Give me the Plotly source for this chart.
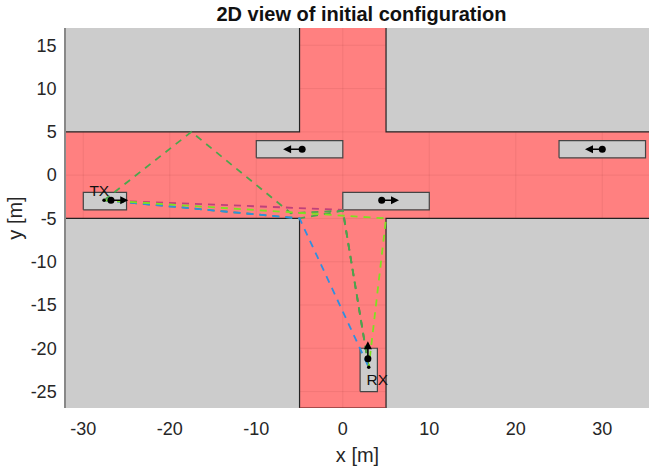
import plotly.graph_objects as go

x_range = [-32, 35.4]
y_range = [-26.9, 17]
x_ticks = [-30, -20, -10, 0, 10, 20, 30]
x_tick_labels = ["-30", "-20", "-10", "0", "10", "20", "30"]
y_ticks = [-25, -20, -15, -10, -5, 0, 5, 10, 15]
y_tick_labels = ["-25", "-20", "-15", "-10", "-5", "0", "5", "10", "15"]

road_x = [x_range[0], -5, -5, 5, 5, x_range[1], x_range[1], 5, 5, -5, -5, x_range[0], x_range[0]]
road_y = [5, 5, y_range[1], y_range[1], 5, 5, -5, -5, y_range[0], y_range[0], -5, -5, 5]

# building corners
block_edges = [
    ([x_range[0], -5, -5], [5, 5, y_range[1]]),
    ([5, 5, x_range[1]], [y_range[1], 5, 5]),
    ([x_range[0], -5, -5], [-5, -5, y_range[0]]),
    ([5, 5, x_range[1]], [y_range[0], -5, -5]),
]
road_end_x = [-5, 5]
road_end_y = [y_range[0], y_range[0]]

# vehicles: x0, x1, y0, y1
vehicles = {
    "TX": (-30, -25, -4, -2),
    "car1": (-10, 0, 2, 4),
    "car2": (0, 10, -4, -2),
    "car3": (25, 35, 2, 4),
    "RX": (2, 4, -25, -20),
}
# centre dot and heading arrow tip
car_dots_x = [-26.8, -4.7, 4.5, 30, 2.9]
car_dots_y = [-2.9, 3, -2.9, 3, -21.2]
arrow_tips_x = [-24.8, -6.9, 6.5, 28, 2.9]
arrow_tips_y = [-2.9, 3, -2.9, 3, -19.2]
antenna_x = [-27.6, 3.0]
antenna_y = [-2.9, -22.2]

# ray paths
rays = [
    ("#c0407a", [-27.6, 0, 3.0], [-2.9, -4, -22.2]),
    ("#4ca64c", [-27.6, -17.5, -6, 0, 3.0], [-2.9, 5, -4.4, -4.1, -22.2]),
    ("#4ca64c", [-27.6, -5, 0, 3.0], [-2.9, -5, -4.1, -22.2]),
    ("#2f8fe0", [-27.6, -5, 3.0], [-2.9, -5, -22.2]),
    ("#7fe020", [-27.6, 5, 3.0], [-2.9, -5, -22.2]),
]

labels = ["TX", "RX"]
label_x = [-28.15, 4.0]
label_y = [-1.95, -23.76]

grid_color = "rgba(130,40,40,0.10)"

fig = go.Figure()
fig.add_trace(go.Scatter(x=road_x, y=road_y, mode="lines", fill="toself",
                         fillcolor="#ff8080", line=dict(width=0), hoverinfo="skip"))
for bx, by in block_edges:
    fig.add_trace(go.Scatter(x=bx, y=by, mode="lines", line=dict(color="#222222", width=1.2), hoverinfo="skip"))
fig.add_trace(go.Scatter(x=road_end_x, y=road_end_y, mode="lines", line=dict(color="#8a3a3a", width=1.5), hoverinfo="skip", cliponaxis=False))
for gx in x_ticks:
    span = y_range if gx == 0 else [-5, 5]
    fig.add_trace(go.Scatter(x=[gx, gx], y=span, mode="lines", line=dict(color=grid_color, width=1), hoverinfo="skip"))
for gy in y_ticks:
    span = x_range if gy == 0 else [-5, 5]
    fig.add_trace(go.Scatter(x=span, y=[gy, gy], mode="lines", line=dict(color=grid_color, width=1), hoverinfo="skip"))
for name, (x0, x1, y0, y1) in vehicles.items():
    fig.add_trace(go.Scatter(x=[x0, x1, x1, x0, x0], y=[y0, y0, y1, y1, y0], mode="lines", fill="toself",
                             fillcolor="#cccccc", line=dict(color="#444444", width=1.2), hoverinfo="skip"))
for color, rx, ry in rays:
    fig.add_trace(go.Scatter(x=rx, y=ry, mode="lines", line=dict(color=color, width=1.8, dash="7px,6px"), hoverinfo="skip"))
fig.add_trace(go.Scatter(x=car_dots_x, y=car_dots_y, mode="markers", marker=dict(color="black", size=7), hoverinfo="skip"))
fig.add_trace(go.Scatter(x=antenna_x, y=antenna_y, mode="markers", marker=dict(color="black", size=3.5), hoverinfo="skip"))
fig.add_trace(go.Scatter(x=label_x, y=label_y, mode="text", text=labels, textposition="middle center",
                         textfont=dict(family="Liberation Sans", size=15.5, color="#111111"), hoverinfo="skip"))

annotations = [
    dict(x=tx, y=ty, ax=dx, ay=dy, xref="x", yref="y", axref="x", ayref="y", text="",
         showarrow=True, arrowhead=2, arrowsize=1, arrowwidth=1.6, arrowcolor="black")
    for dx, dy, tx, ty in zip(car_dots_x, car_dots_y, arrow_tips_x, arrow_tips_y)
]

fig.update_layout(
    width=649, height=470, autosize=False, showlegend=False,
    paper_bgcolor="white", plot_bgcolor="#cccccc",
    margin=dict(l=66, r=0, t=28, b=62),
    font=dict(family="Liberation Sans", color="#262626"),
    title=dict(text="<b>2D view of initial configuration</b>", x=0.557, xanchor="center", y=0.970, yanchor="middle",
               font=dict(size=20, color="#111111")),
    annotations=annotations,
)
fig.update_xaxes(range=x_range, tickmode="array", tickvals=x_ticks, ticktext=x_tick_labels, showgrid=False, zeroline=False,
                 showline=False, ticks="", tickfont=dict(size=18), ticklabelstandoff=8,
                 title=dict(text="x [m]", font=dict(size=20), standoff=9))
fig.update_yaxes(range=y_range, tickmode="array", tickvals=y_ticks, ticktext=y_tick_labels, showgrid=False, zeroline=False,
                 showline=True, linecolor="#888888", linewidth=1.5, ticks="", tickfont=dict(size=18), ticklabelstandoff=4,
                 title=dict(text="y [m]", font=dict(size=20), standoff=3))
fig.write_html("out.html", default_width="649px", default_height="470px",
               config=dict(displayModeBar=False),
               post_script="document.body.style.margin='0';")
